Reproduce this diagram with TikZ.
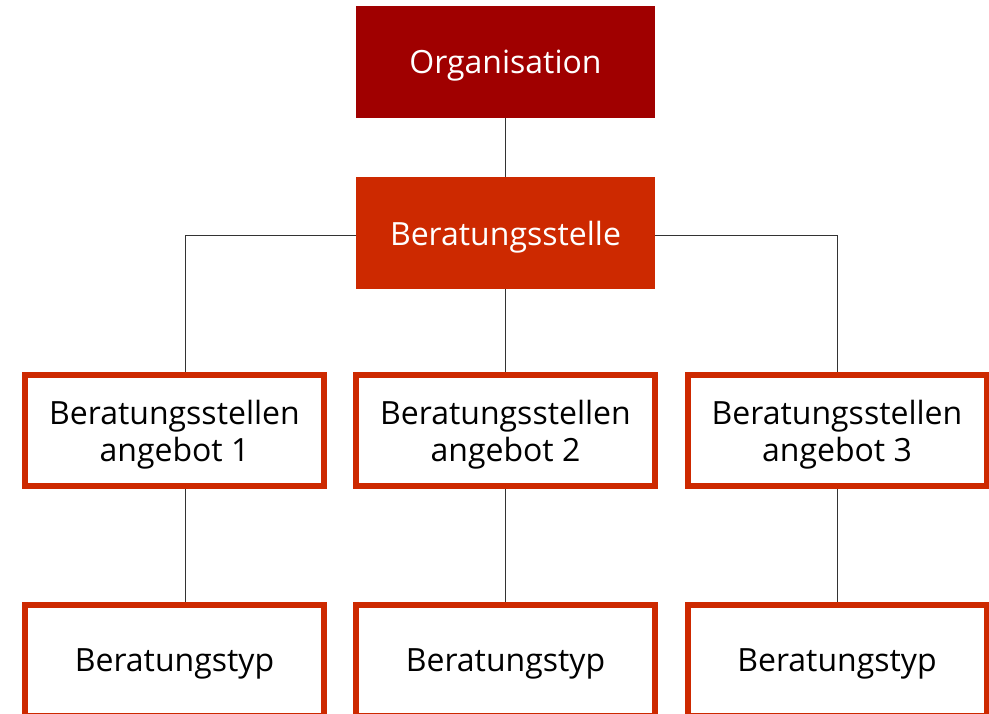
\documentclass[tikz,border=0pt]{standalone}
\usepackage{fontspec}
\setmainfont{Open Sans}
\usepackage{tikz}
\usetikzlibrary{positioning}

\definecolor{orgred}{HTML}{A00000}
\definecolor{stellered}{HTML}{CD2900}
\definecolor{linegray}{HTML}{333333}

\tikzset{
  filledbox/.style={minimum width=299pt, minimum height=112pt, inner sep=0pt,
    text depth=0pt, text=white, font=\fontsize{32}{37}\selectfont},
  framebox/.style={draw=stellered, line width=6pt, fill=white, minimum width=299pt,
    minimum height=111pt, inner sep=0pt, text depth=0pt, align=center,
    font=\fontsize{32}{37}\selectfont},
  link/.style={draw=linegray, line width=1pt}
}

\begin{document}
\begin{tikzpicture}[x=1pt, y=-1pt]
            \useasboundingbox (0,0) rectangle (989,714);

            \node[filledbox, fill=orgred] (org) at (505.5,62) {Organisation};
            \node[filledbox, fill=stellered] (stelle) at (505.5,233) {Beratungsstelle};

            \node[framebox] (angebot1) at (174.5,430.5) {Beratungsstellen\\angebot 1};
            \node[framebox] (angebot2) at (505.5,430.5) {Beratungsstellen\\angebot 2};
            \node[framebox] (angebot3) at (837,430.5) {Beratungsstellen\\angebot 3};

            \node[framebox] (typ1) at (174.5,660.5) {Beratungstyp};
            \node[framebox] (typ2) at (505.5,660.5) {Beratungstyp};
            \node[framebox] (typ3) at (837,660.5) {Beratungstyp};

            \coordinate (knick1) at ([xshift=10.5pt]angebot1.north);
            \coordinate (knick1b) at ([xshift=10.5pt]angebot1.south);
            \coordinate (knick1c) at ([xshift=10.5pt]typ1.north);

            \path[link] (org) -- (stelle);
            \path[link] ([yshift=-3pt]stelle.west) -| (knick1);
            \path[link] ([yshift=-3pt]stelle.east) -| (angebot3.north);
            \path[link] (stelle) -- (angebot2);
            \path[link] (knick1b) -- (knick1c);
            \path[link] (angebot2) -- (typ2);
            \path[link] (angebot3) -- (typ3);
        \end{tikzpicture}
\end{document}
